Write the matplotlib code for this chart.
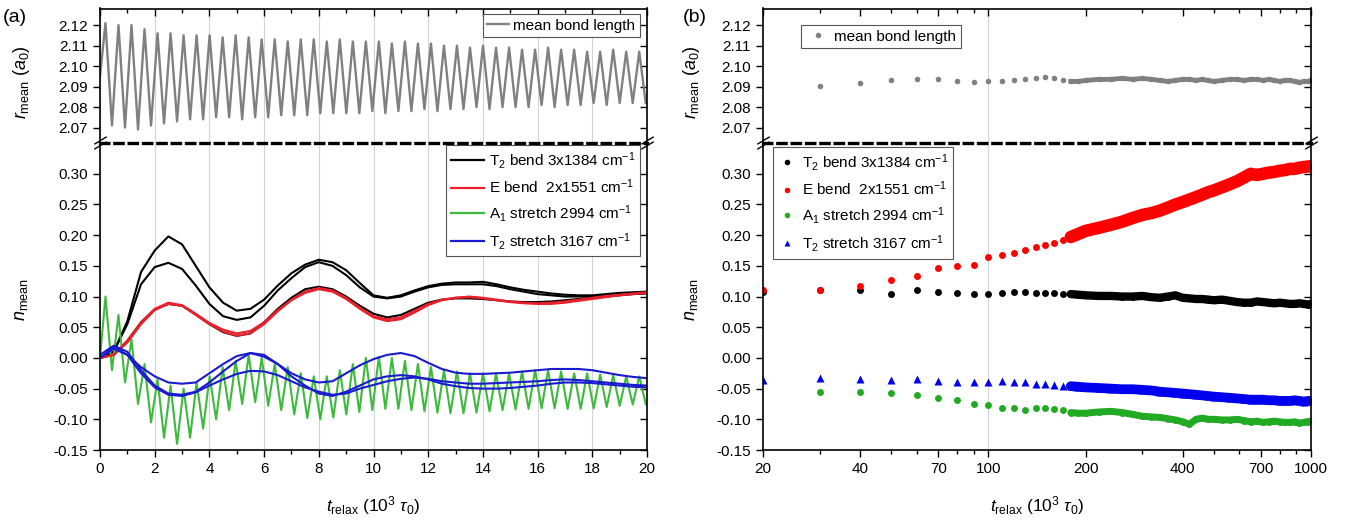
import numpy as np
import matplotlib
matplotlib.use("Agg")
import matplotlib.pyplot as plt
from matplotlib.ticker import MultipleLocator, FixedLocator, NullFormatter, FormatStrFormatter

plt.rcParams['font.family'] = ['Liberation Sans', 'DejaVu Sans']
plt.rcParams['mathtext.fontset'] = 'custom'
plt.rcParams['mathtext.rm'] = 'Liberation Sans'
plt.rcParams['mathtext.it'] = 'Liberation Sans:italic'
plt.rcParams['mathtext.bf'] = 'Liberation Sans:bold'
plt.rcParams['axes.unicode_minus'] = False

# ---------------- panel (a) data ----------------
# mean bond length: first point, then alternating maxima / minima of the oscillation
r_start = 2.095
r_t_first = 0.2
r_half_period = 0.238
r_peaks = [2.121, 2.120, 2.120, 2.118, 2.116, 2.116, 2.115, 2.115, 2.115, 2.114,
           2.115, 2.114, 2.113, 2.113, 2.112, 2.113, 2.113, 2.112, 2.113, 2.112,
           2.112, 2.112, 2.111, 2.112, 2.111, 2.111, 2.110, 2.110, 2.109, 2.110,
           2.109, 2.109, 2.108, 2.108, 2.109, 2.108, 2.108, 2.107, 2.107, 2.108, 2.107, 2.107]
r_troughs = [2.071, 2.070, 2.069, 2.071, 2.072, 2.073, 2.074, 2.074, 2.075, 2.075,
             2.074, 2.075, 2.075, 2.076, 2.076, 2.076, 2.077, 2.077, 2.077, 2.077,
             2.078, 2.077, 2.078, 2.078, 2.079, 2.078, 2.079, 2.079, 2.080, 2.079,
             2.080, 2.080, 2.080, 2.081, 2.080, 2.081, 2.081, 2.082, 2.081, 2.082, 2.082, 2.082]

# A1 stretch: same oscillation grid
a1_start = 0.0
a1_peaks = [0.100, 0.070, 0.030, -0.010, -0.035, -0.045, -0.050, -0.040, -0.030, -0.015,
            -0.005, 0.005, 0.000, -0.010, -0.015, -0.025, -0.030, -0.030, -0.020, -0.010,
            0.000, 0.002, 0.000, -0.005, -0.010, -0.015, -0.020, -0.022, -0.025, -0.025,
            -0.025, -0.025, -0.022, -0.020, -0.020, -0.022, -0.025, -0.025, -0.027, -0.028, -0.030, -0.030]
a1_troughs = [-0.020, -0.040, -0.075, -0.105, -0.130, -0.140, -0.130, -0.115, -0.100, -0.085,
              -0.075, -0.072, -0.078, -0.085, -0.092, -0.098, -0.100, -0.097, -0.092, -0.088,
              -0.085, -0.083, -0.083, -0.085, -0.087, -0.089, -0.090, -0.090, -0.089, -0.087,
              -0.085, -0.084, -0.083, -0.082, -0.082, -0.083, -0.083, -0.082, -0.080, -0.078, -0.076, -0.075]

t_a = [0.0, 0.5, 1.0, 1.5, 2.0, 2.5, 3.0, 3.5, 4.0, 4.5,
       5.0, 5.5, 6.0, 6.5, 7.0, 7.5, 8.0, 8.5, 9.0, 9.5,
       10.0, 10.5, 11.0, 11.5, 12.0, 12.5, 13.0, 13.5, 14.0, 14.5,
       15.0, 15.5, 16.0, 16.5, 17.0, 17.5, 18.0, 18.5, 19.0, 19.5, 20.0]

t2b_runs = [
    [0.000, 0.010, 0.060, 0.140, 0.175, 0.198, 0.185, 0.150, 0.115, 0.090,
     0.077, 0.080, 0.095, 0.118, 0.138, 0.152, 0.160, 0.156, 0.143, 0.122,
     0.102, 0.098, 0.102, 0.110, 0.117, 0.121, 0.123, 0.123, 0.124, 0.120,
     0.115, 0.111, 0.108, 0.105, 0.103, 0.102, 0.102, 0.104, 0.106, 0.107, 0.108],
    [0.000, 0.010, 0.055, 0.120, 0.148, 0.155, 0.145, 0.118, 0.088, 0.068,
     0.062, 0.066, 0.085, 0.110, 0.130, 0.148, 0.156, 0.150, 0.135, 0.115,
     0.100, 0.097, 0.100, 0.108, 0.115, 0.119, 0.120, 0.120, 0.120, 0.117,
     0.112, 0.108, 0.104, 0.102, 0.100, 0.100, 0.100, 0.102, 0.104, 0.106, 0.107],
    [0.000, 0.005, 0.028, 0.058, 0.079, 0.088, 0.085, 0.071, 0.055, 0.042,
     0.036, 0.040, 0.058, 0.080, 0.098, 0.112, 0.116, 0.112, 0.100, 0.085,
     0.072, 0.066, 0.070, 0.080, 0.090, 0.095, 0.097, 0.097, 0.096, 0.094,
     0.092, 0.091, 0.091, 0.092, 0.094, 0.096, 0.098, 0.100, 0.102, 0.104, 0.105],
]
eb_runs = [
    [0.000, 0.005, 0.028, 0.058, 0.080, 0.090, 0.086, 0.072, 0.057, 0.046,
     0.040, 0.044, 0.058, 0.078, 0.095, 0.108, 0.114, 0.110, 0.098, 0.082,
     0.068, 0.063, 0.066, 0.077, 0.088, 0.095, 0.098, 0.099, 0.097, 0.094,
     0.091, 0.089, 0.088, 0.088, 0.090, 0.093, 0.096, 0.099, 0.102, 0.104, 0.106],
    [0.000, 0.005, 0.025, 0.055, 0.078, 0.088, 0.085, 0.070, 0.055, 0.043,
     0.036, 0.040, 0.055, 0.076, 0.094, 0.106, 0.112, 0.108, 0.096, 0.080,
     0.066, 0.060, 0.063, 0.074, 0.086, 0.094, 0.098, 0.100, 0.098, 0.095,
     0.092, 0.090, 0.089, 0.090, 0.092, 0.095, 0.098, 0.101, 0.103, 0.105, 0.107],
]
t2s_runs = [
    [0.000, 0.015, 0.005, -0.015, -0.030, -0.040, -0.042, -0.040, -0.025, -0.010,
     0.003, 0.008, 0.005, -0.010, -0.025, -0.035, -0.040, -0.038, -0.025, -0.012,
     -0.002, 0.005, 0.008, 0.003, -0.008, -0.018, -0.024, -0.026, -0.026, -0.025,
     -0.024, -0.022, -0.020, -0.018, -0.018, -0.018, -0.020, -0.024, -0.028, -0.031, -0.033],
    [0.005, 0.020, 0.010, -0.020, -0.045, -0.058, -0.060, -0.055, -0.040, -0.022,
     -0.005, 0.008, 0.002, -0.010, -0.030, -0.045, -0.058, -0.062, -0.055, -0.045,
     -0.035, -0.030, -0.028, -0.030, -0.035, -0.042, -0.046, -0.049, -0.050, -0.050,
     -0.049, -0.047, -0.045, -0.042, -0.040, -0.040, -0.041, -0.043, -0.045, -0.047, -0.048],
    [0.000, 0.018, 0.005, -0.025, -0.048, -0.060, -0.062, -0.056, -0.045, -0.035,
     -0.026, -0.021, -0.022, -0.028, -0.038, -0.048, -0.055, -0.060, -0.058, -0.050,
     -0.044, -0.038, -0.034, -0.032, -0.034, -0.038, -0.040, -0.042, -0.042, -0.041,
     -0.040, -0.039, -0.038, -0.036, -0.035, -0.036, -0.038, -0.040, -0.042, -0.044, -0.045],
]

# ---------------- panel (b) data ----------------
t_b = [20, 30, 40, 50, 60, 70, 80, 90, 100, 110,
       120, 130, 140, 150, 160, 170, 180, 190, 200, 220,
       240, 260, 280, 300, 320, 340, 360, 380, 400, 420,
       440, 460, 480, 500, 530, 560, 590, 620, 650, 680,
       710, 740, 770, 800, 830, 860, 890, 920, 950, 980, 1000]
r_b = [np.nan, 2.0905, 2.0915, 2.0930, 2.0935, 2.0935, 2.0925, 2.0920, 2.0925, 2.0925,
       2.0930, 2.0935, 2.0940, 2.0945, 2.0940, 2.0930, 2.0925, 2.0925, 2.0930, 2.0935,
       2.0935, 2.0940, 2.0935, 2.0940, 2.0935, 2.0930, 2.0925, 2.0930, 2.0935, 2.0935,
       2.0930, 2.0935, 2.0930, 2.0925, 2.0930, 2.0935, 2.0935, 2.0930, 2.0935, 2.0935,
       2.0930, 2.0935, 2.0930, 2.0925, 2.0930, 2.0930, 2.0925, 2.0920, 2.0925, 2.0925, 2.0930]
t2b_b = [0.108, 0.110, 0.110, 0.104, 0.110, 0.108, 0.106, 0.104, 0.104, 0.106,
         0.107, 0.108, 0.106, 0.105, 0.105, 0.104, 0.104, 0.103, 0.102, 0.101,
         0.101, 0.100, 0.100, 0.101, 0.099, 0.098, 0.100, 0.102, 0.098, 0.097,
         0.096, 0.096, 0.095, 0.094, 0.095, 0.093, 0.091, 0.090, 0.090, 0.092,
         0.091, 0.090, 0.089, 0.090, 0.089, 0.088, 0.088, 0.089, 0.088, 0.087, 0.088]
eb_b = [0.110, 0.110, 0.118, 0.127, 0.134, 0.146, 0.149, 0.152, 0.164, 0.168,
        0.171, 0.176, 0.180, 0.184, 0.188, 0.192, 0.197, 0.202, 0.207, 0.212,
        0.217, 0.222, 0.228, 0.233, 0.236, 0.240, 0.245, 0.250, 0.254, 0.258,
        0.262, 0.266, 0.270, 0.273, 0.278, 0.283, 0.288, 0.294, 0.300, 0.298,
        0.300, 0.302, 0.303, 0.305, 0.306, 0.308, 0.308, 0.310, 0.311, 0.312, 0.312]
a1_b = [np.nan, -0.055, -0.055, -0.057, -0.060, -0.066, -0.068, -0.075, -0.076, -0.081,
        -0.082, -0.085, -0.082, -0.081, -0.083, -0.085, -0.089, -0.090, -0.090, -0.088,
        -0.087, -0.089, -0.092, -0.095, -0.096, -0.097, -0.099, -0.101, -0.104, -0.108,
        -0.100, -0.098, -0.100, -0.100, -0.101, -0.101, -0.100, -0.102, -0.104, -0.103,
        -0.105, -0.104, -0.103, -0.104, -0.105, -0.105, -0.104, -0.106, -0.105, -0.104, -0.103]
t2s_b = [-0.036, -0.032, -0.034, -0.036, -0.035, -0.038, -0.040, -0.040, -0.040, -0.038,
         -0.039, -0.040, -0.042, -0.043, -0.044, -0.045, -0.046, -0.047, -0.048, -0.049,
         -0.050, -0.051, -0.051, -0.052, -0.053, -0.055, -0.056, -0.057, -0.058, -0.059,
         -0.060, -0.061, -0.062, -0.063, -0.064, -0.065, -0.066, -0.067, -0.068, -0.068,
         -0.068, -0.069, -0.069, -0.070, -0.070, -0.070, -0.069, -0.070, -0.071, -0.070, -0.070]

labels = [r'T$_2$ bend 3x1384 cm$^{-1}$', r'E bend  2x1551 cm$^{-1}$',
          r'A$_1$ stretch 2994 cm$^{-1}$', r'T$_2$ stretch 3167 cm$^{-1}$']
r_yticks = [2.07, 2.08, 2.09, 2.10, 2.11, 2.12]
n_yticks = [-0.15, -0.10, -0.05, 0.00, 0.05, 0.10, 0.15, 0.20, 0.25, 0.30]

# ---------------- figure ----------------
W, H = 1348, 528
fig = plt.figure(figsize=(W / 100, H / 100), dpi=100)

def rect(x0, x1, y0, y1):
    return [x0 / W, (H - y1) / H, (x1 - x0) / W, (y1 - y0) / H]

y_top, y_brk, y_bot = 8.5, 142.5, 450
axA_b = fig.add_axes(rect(100, 647, y_brk, y_bot))
axA_t = fig.add_axes(rect(100, 647, y_top, y_brk))
axB_b = fig.add_axes(rect(763, 1311, y_brk, y_bot))
axB_t = fig.add_axes(rect(763, 1311, y_top, y_brk))

gray = '#808080'
c_red_a, c_green_a, c_blue_a = '#e8202a', '#3cba3c', '#1a1ad0'

# (a) top
n = len(r_peaks)
t_osc = r_t_first + r_half_period * np.arange(2 * n)
r_osc = np.column_stack([r_peaks, r_troughs]).ravel()
axA_t.plot(np.r_[0.0, t_osc], np.r_[r_start, r_osc], color=gray, lw=1.7, label='mean bond length')

# (a) bottom
a1_osc = np.column_stack([a1_peaks, a1_troughs]).ravel()
for y in t2b_runs:
    axA_b.plot(t_a, y, color='black', lw=1.5)
axA_b.plot(np.r_[0.0, t_osc], np.r_[a1_start, a1_osc], color=c_green_a, lw=1.5)
for y in eb_runs:
    axA_b.plot(t_a, y, color=c_red_a, lw=1.5)
for y in t2s_runs:
    axA_b.plot(t_a, y, color=c_blue_a, lw=1.5)
h_a = [plt.Line2D([], [], color=c, lw=1.6) for c in ['black', c_red_a, c_green_a, c_blue_a]]

# (b) top
tb = np.array(t_b)
dense = tb >= 180
axB_t.plot(tb, r_b, 'o', color=gray, ms=4, mec='none', label='mean bond length')
axB_t.plot(tb[dense], np.array(r_b)[dense], color=gray, lw=3.5)

# (b) bottom
for y, c, m, lw in [(t2b_b, 'black', 'o', 6), (eb_b, '#ff0000', 'o', 9),
                    (a1_b, '#22aa22', 'o', 5), (t2s_b, '#0000ee', '^', 7)]:
    y = np.array(y)
    axB_b.plot(tb, y, m, color=c, ms=5 if m == 'o' else 5.5, mec='none')
    axB_b.plot(tb[dense], y[dense], color=c, lw=lw, solid_capstyle='round')
h_b = [plt.Line2D([], [], ls='none', marker=m, color=c, ms=4, mec='none')
       for c, m in [('black', 'o'), ('#ff0000', 'o'), ('#22aa22', 'o'), ('#0000ee', '^')]]

# axes styling
for ax in [axA_t, axA_b, axB_t, axB_b]:
    ax.set_facecolor('none')
    for s in ax.spines.values():
        s.set_linewidth(1.2)
    ax.tick_params(which='both', labelsize=11, width=1.0)
    ax.tick_params(which='major', length=5)
    ax.tick_params(which='minor', length=3)

for ax in [axA_t, axB_t]:
    ax.set_ylim(2.0627, 2.1281)
    ax.set_yticks(r_yticks)
    ax.yaxis.set_major_formatter(FormatStrFormatter('%.2f'))
    ax.spines['bottom'].set_linestyle((0, (2.5, 1.8)))
    ax.spines['bottom'].set_linewidth(2.4)
    ax.tick_params(axis='x', which='both', bottom=False, top=True, direction='in', labelbottom=False)
    ax.tick_params(axis='y', which='both', left=True, right=True)

for ax in [axA_b, axB_b]:
    ax.set_ylim(-0.15, 0.351)
    ax.set_yticks(n_yticks)
    ax.yaxis.set_major_formatter(FormatStrFormatter('%.2f'))
    ax.spines['top'].set_visible(False)
    ax.tick_params(axis='x', which='both', direction='out')
    ax.tick_params(axis='y', which='both', left=True, right=True)
    ax.set_xlabel(r'$t_{\mathrm{relax}}$ (10$^3$ $\tau_0$)', fontsize=12.5, labelpad=13)

for ax in [axA_t, axA_b]:
    ax.set_xlim(0, 20)
    ax.xaxis.set_major_locator(MultipleLocator(2))
    ax.xaxis.set_minor_locator(MultipleLocator(1))
    ax.xaxis.set_major_formatter(FormatStrFormatter('%d'))
    ax.grid(axis='x', which='major', color='#d4d4d4', lw=0.8)
    ax.set_axisbelow(True)

b_major = [20, 40, 70, 100, 200, 400, 700, 1000]
b_minor = [30, 50, 60, 80, 90, 300, 500, 600, 800, 900]
for ax in [axB_t, axB_b]:
    ax.set_xscale('log')
    ax.set_xlim(20, 1000)
    ax.xaxis.set_major_locator(FixedLocator(b_major))
    ax.xaxis.set_minor_locator(FixedLocator(b_minor))
    ax.xaxis.set_major_formatter(FormatStrFormatter('%d'))
    ax.xaxis.set_minor_formatter(NullFormatter())
    ax.axvline(100, color='#d4d4d4', lw=0.8, zorder=0)

# right-side ticks pointing inward
for ax in [axA_t, axA_b, axB_t, axB_b]:
    for tk in ax.yaxis.get_major_ticks():
        tk.tick2line.set_marker(matplotlib.lines.TICKLEFT)

# break marks
for ax in [axA_b, axB_b]:
    kw = dict(marker=[(-1, -0.6), (1, 0.6)], markersize=9, linestyle='none',
              color='k', mec='k', mew=1, clip_on=False, transform=ax.transAxes)
    ax.plot([0, 1], [1.008, 1.008], **kw)
    ax.plot([0, 1], [0.992, 0.992], **kw)

# legends
lkw = dict(frameon=True, fancybox=False, edgecolor='#555555', framealpha=1, fontsize=11,
           borderpad=0.3, handletextpad=0.3, borderaxespad=0)
lg = axA_t.legend(loc='upper right', bbox_to_anchor=(0.987, 0.959), handlelength=1.4, **lkw)
lg.get_frame().set_linewidth(0.8)
lg = axA_b.legend(h_a, labels, loc='upper right', bbox_to_anchor=(0.987, 0.992), handlelength=2.2,
                  labelspacing=0.45, **lkw)
lg.get_frame().set_linewidth(0.8)
lg = axB_t.legend(loc='upper left', bbox_to_anchor=(0.069, 0.877), handlelength=1.6, **lkw)
lg.get_frame().set_linewidth(0.8)
lg = axB_b.legend(h_b, labels, loc='upper left', bbox_to_anchor=(0.018, 0.985), handlelength=1.3,
                  labelspacing=0.45, **lkw)
lg.get_frame().set_linewidth(0.8)

# axis titles and panel labels
for x0 in [22, 692]:
    fig.text(x0 / W, 1 - 82 / H, r'$r_{\mathrm{mean}}$ ($a_0$)', rotation=90, ha='center', va='center', fontsize=13)
    fig.text(x0 / W, 1 - 300 / H, r'$n_{\mathrm{mean}}$', rotation=90, ha='center', va='center', fontsize=13)
fig.text(3 / W, 1 - 18 / H, '(a)', fontsize=14, va='center')
fig.text(683 / W, 1 - 18 / H, '(b)', fontsize=14, va='center')

fig.savefig('out.png', dpi=100)
